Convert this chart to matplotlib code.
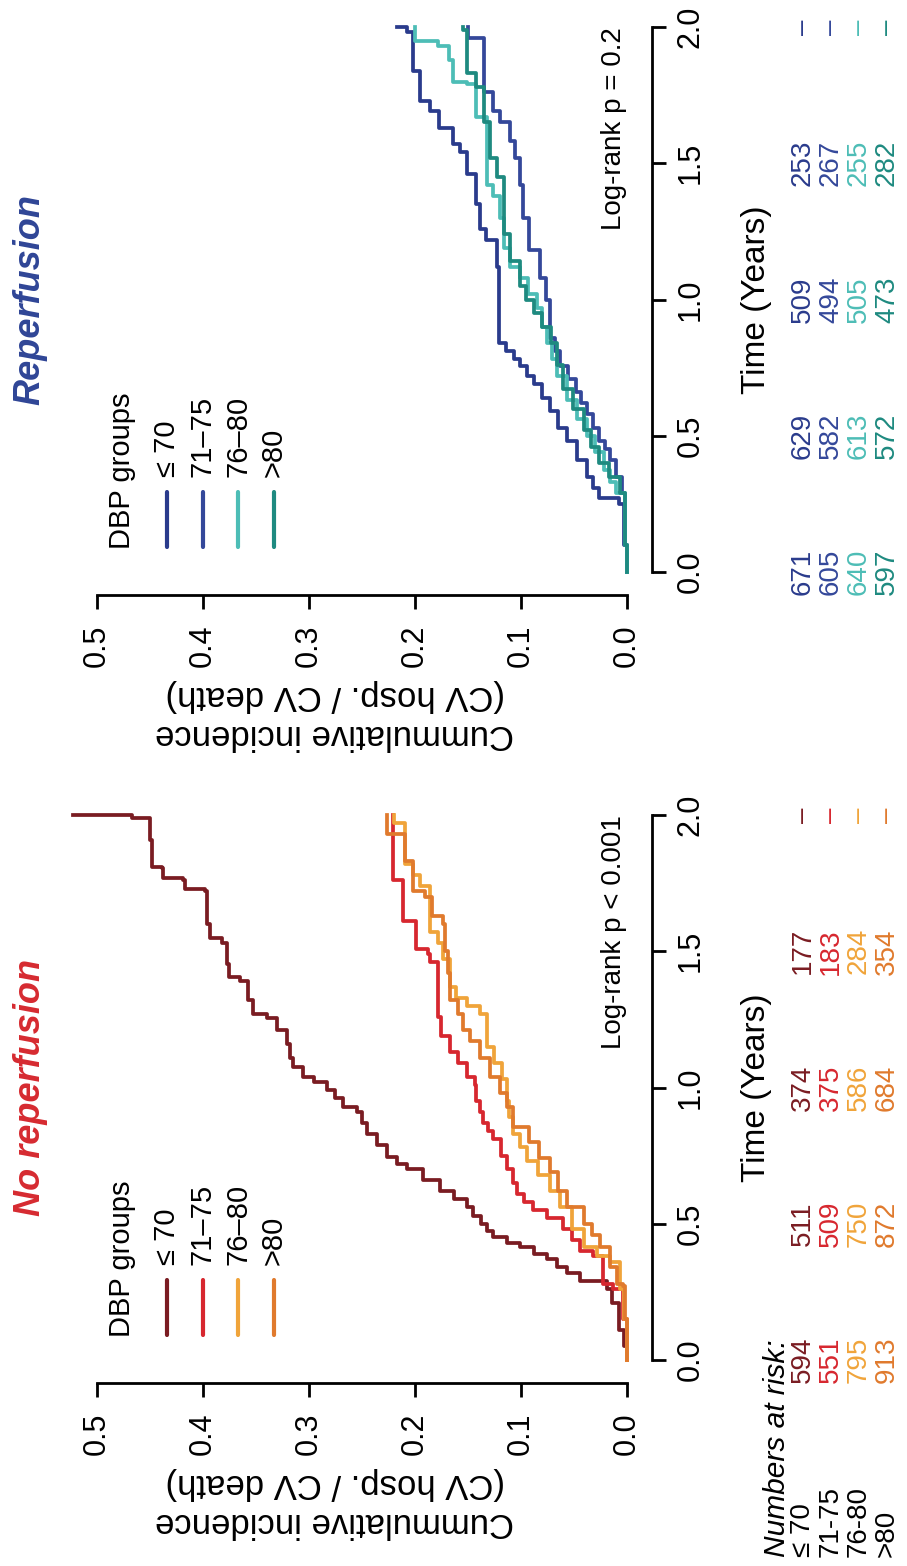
import numpy as np
import matplotlib
matplotlib.use('Agg')
import matplotlib.pyplot as plt
from matplotlib.lines import Line2D
from matplotlib.transforms import blended_transform_factory

# group labels
groups = ['\u2264 70', '71\u201375', '76\u201380', '>80']
row_labels = ['\u2264 70', '71-75', '76-80', '>80']
risk_times = [0.0, 0.5, 1.0, 1.5, 2.0]

# ---- no reperfusion (time in years, cumulative incidence)
nr_t_70 = [0, 0.05, 0.11, 0.21, 0.26, 0.29, 0.32, 0.34, 0.37, 0.39, 0.415, 0.43, 0.45, 0.475, 0.50,
           0.53, 0.56, 0.59, 0.62, 0.66, 0.70, 0.72, 0.745, 0.79, 0.83, 0.87, 0.91, 0.93, 0.96,
           0.99, 1.02, 1.04, 1.075, 1.11, 1.16, 1.21, 1.255, 1.27, 1.32, 1.39, 1.405,
           1.455, 1.53, 1.55, 1.60, 1.72, 1.73, 1.76, 1.77, 1.805, 1.81, 1.91, 1.99, 2.0]
nr_i_70 = [0, 0.003, 0.008, 0.014, 0.019, 0.044, 0.057, 0.066, 0.075, 0.088, 0.101, 0.113, 0.126,
           0.132, 0.138, 0.145, 0.151, 0.163, 0.176, 0.192, 0.208, 0.217, 0.226, 0.236, 0.245,
           0.250, 0.255, 0.268, 0.275, 0.283, 0.295, 0.306, 0.315, 0.318, 0.321, 0.330, 0.340,
           0.353, 0.358, 0.365, 0.375, 0.377, 0.382, 0.393, 0.396, 0.398, 0.417, 0.419, 0.438,
           0.439, 0.448, 0.450, 0.467, 0.523]
nr_t_75 = [0, 0.15, 0.26, 0.28, 0.38, 0.40, 0.44, 0.48, 0.52, 0.55, 0.58, 0.61, 0.65, 0.70, 0.75,
           0.81, 0.84, 0.87, 0.91, 0.95, 1.01, 1.04, 1.09, 1.13, 1.19, 1.26, 1.46, 1.49, 1.51,
           1.61, 1.76, 2.0]
nr_i_75 = [0, 0.004, 0.013, 0.023, 0.032, 0.044, 0.052, 0.060, 0.075, 0.089, 0.097, 0.104, 0.108,
           0.113, 0.119, 0.126, 0.131, 0.136, 0.139, 0.142, 0.143, 0.151, 0.159, 0.167, 0.175,
           0.178, 0.186, 0.188, 0.199, 0.211, 0.221, 0.221]
nr_t_80 = [0, 0.15, 0.26, 0.36, 0.38, 0.415, 0.48, 0.56, 0.62, 0.68, 0.73, 0.78, 0.83, 0.89, 0.95,
           1.03, 1.09, 1.15, 1.27, 1.30, 1.33, 1.37, 1.47, 1.53, 1.57, 1.74, 1.78, 1.82, 1.97,
           2.0]
nr_i_80 = [0, 0.003, 0.007, 0.016, 0.028, 0.041, 0.052, 0.063, 0.073, 0.084, 0.094, 0.101, 0.108,
           0.111, 0.113, 0.118, 0.125, 0.132, 0.139, 0.151, 0.161, 0.167, 0.174, 0.178, 0.186,
           0.195, 0.202, 0.209, 0.220, 0.220]
nr_t_gt80 = [0, 0.15, 0.27, 0.28, 0.34, 0.415, 0.46, 0.50, 0.56, 0.62, 0.69, 0.74, 0.80, 0.855,
             0.93, 0.98, 1.04, 1.11, 1.17, 1.21, 1.27, 1.32, 1.42, 1.50, 1.60, 1.63, 1.70, 1.72,
             1.83, 1.93, 2.0]
nr_i_gt80 = [0, 0.002, 0.004, 0.009, 0.016, 0.025, 0.033, 0.041, 0.057, 0.065, 0.073, 0.083,
             0.092, 0.108, 0.113, 0.120, 0.129, 0.139, 0.148, 0.155, 0.159, 0.167, 0.169, 0.172,
             0.174, 0.184, 0.191, 0.202, 0.209, 0.226, 0.226]

nr_risk = [['594', '511', '374', '177', '\u2013'],
           ['551', '509', '375', '183', '\u2013'],
           ['795', '750', '586', '284', '\u2013'],
           ['913', '872', '684', '354', '\u2013']]

# ---- reperfusion
r_t_70 = [0, 0.10, 0.25, 0.27, 0.31, 0.35, 0.41, 0.48, 0.53, 0.59, 0.64, 0.69, 0.72, 0.755, 0.78,
          0.81, 0.84, 1.12, 1.22, 1.26, 1.35, 1.46, 1.54, 1.57, 1.63, 1.69, 1.73, 1.84, 1.98, 2.0]
r_i_70 = [0, 0.003, 0.008, 0.026, 0.032, 0.038, 0.047, 0.057, 0.065, 0.073, 0.080, 0.088, 0.094,
          0.101, 0.107, 0.114, 0.121, 0.123, 0.133, 0.139, 0.142, 0.151, 0.158, 0.164, 0.177,
          0.186, 0.195, 0.202, 0.208, 0.217]
r_t_75 = [0, 0.10, 0.29, 0.35, 0.41, 0.45, 0.48, 0.53, 0.58, 0.62, 0.66, 0.71, 0.755, 0.81, 0.86,
          1.0, 1.08, 1.18, 1.30, 1.42, 1.52, 1.58, 1.65, 1.69, 1.76, 1.96, 2.0]
r_i_75 = [0, 0.002, 0.005, 0.010, 0.016, 0.021, 0.026, 0.032, 0.038, 0.043, 0.048, 0.056, 0.063,
          0.068, 0.073, 0.076, 0.082, 0.092, 0.098, 0.101, 0.106, 0.110, 0.120, 0.126, 0.135,
          0.150, 0.150]
r_t_80 = [0, 0.10, 0.29, 0.33, 0.375, 0.44, 0.50, 0.56, 0.63, 0.72, 0.78, 0.84, 0.90, 0.97, 1.02,
          1.08, 1.12, 1.19, 1.30, 1.38, 1.42, 1.67, 1.79, 1.80, 1.88, 1.93, 1.95, 2.0]
r_i_80 = [0, 0.002, 0.010, 0.016, 0.022, 0.030, 0.038, 0.047, 0.057, 0.066, 0.071, 0.075, 0.080,
          0.085, 0.093, 0.101, 0.110, 0.116, 0.120, 0.126, 0.132, 0.142, 0.151, 0.164, 0.168,
          0.178, 0.200, 0.200]
r_t_gt80 = [0, 0.10, 0.29, 0.35, 0.40, 0.46, 0.52, 0.60, 0.67, 0.76, 0.84, 0.90, 0.95, 1.00, 1.05,
            1.14, 1.24, 1.45, 1.52, 1.65, 1.78, 1.83, 1.99, 2.0]
r_i_gt80 = [0, 0.002, 0.007, 0.017, 0.026, 0.034, 0.041, 0.051, 0.060, 0.066, 0.072, 0.080, 0.088,
            0.095, 0.101, 0.110, 0.116, 0.123, 0.129, 0.135, 0.142, 0.151, 0.155, 0.155]

r_risk = [['671', '629', '509', '253', '\u2013'],
          ['605', '582', '494', '267', '\u2013'],
          ['640', '613', '505', '255', '\u2013'],
          ['597', '572', '473', '282', '\u2013']]

nr_colors = ['#7a1c22', '#d7272f', '#f0a43a', '#e07a2d']
r_colors = ['#2a3b8c', '#34489a', '#4dbdb6', '#1e8a80']

inc_ticks = [0.0, 0.1, 0.2, 0.3, 0.4, 0.5]
time_ticks = [0.0, 0.5, 1.0, 1.5, 2.0]

plt.rcParams['font.family'] = ['Liberation Sans', 'DejaVu Sans']

W, H = 907, 1566
INC_X0 = 627     # pixel column of incidence 0
PX_INC = 1060    # pixels per unit of incidence
PX_YR = 272.5    # pixels per year


def fx(px):
    return px / W


def fy(py):
    return 1 - py / H


#one panel, drawn already turned a quarter turn
def draw_panel(fig, t0_y, title, title_color, curves, colors, risk, ptext, row_names=False):
    left, right = 30, 652
    top, bottom = t0_y - 560, t0_y + 23
    ax = fig.add_axes([fx(left), fy(bottom), (right - left) / W, (bottom - top) / H])
    ax.set_xlim((INC_X0 - left) / PX_INC, (INC_X0 - right) / PX_INC)
    ax.set_ylim((t0_y - bottom) / PX_YR, (t0_y - top) / PX_YR)
    ax.patch.set_alpha(0)

    for (t, inc), c in zip(curves, colors):
        ax.plot(inc, t, drawstyle='steps-pre', color=c, lw=2.7, clip_on=False)

    ax.spines['top'].set_visible(False)
    ax.spines['left'].set_visible(False)
    ax.spines['bottom'].set_bounds(0, 0.5)
    ax.spines['right'].set_bounds(0, 2)
    for s in ('bottom', 'right'):
        ax.spines[s].set_linewidth(2)
    ax.yaxis.tick_right()
    ax.set_xticks(inc_ticks, ['%.1f' % v for v in inc_ticks], rotation=90)
    ax.set_yticks(time_ticks, ['%.1f' % v for v in time_ticks], rotation=90, va='center')
    ax.tick_params(axis='both', direction='out', length=10, width=2, labelsize=22)
    ax.tick_params(axis='x', pad=11)
    ax.tick_params(axis='y', pad=7)

    fig.text(fx(335), fy(t0_y + 143), 'Cummulative incidence\n(CV hosp. / CV death)',
             rotation=180, ha='center', va='center', fontsize=25, linespacing=1.2)

    ax.text(0.012, 2.0, ptext, rotation=90, rotation_mode='anchor', ha='right', va='center',
            fontsize=20)

    tr = blended_transform_factory(fig.transFigure, ax.transData)
    ax.text(fx(30), 1.0, title, transform=tr, rotation=90, ha='center', va='center',
            fontsize=26, fontweight='bold', fontstyle='italic', color=title_color)
    ax.text(fx(756), 1.0, 'Time (Years)', transform=tr, rotation=90, ha='center', va='center',
            fontsize=24)

    # legend
    fig.text(fx(122), fy(t0_y - 23), 'DBP groups', rotation=90, rotation_mode='anchor',
             ha='left', va='center', fontsize=21)
    for i, (lab, c) in enumerate(zip(groups, colors)):
        x = 167 + i * 35.5
        fig.add_artist(Line2D([fx(x), fx(x)], [fy(t0_y - 25), fy(t0_y - 80)],
                              transform=fig.transFigure, color=c, lw=3,
                              solid_capstyle='round'))
        fig.text(fx(x), fy(t0_y - 95), lab, rotation=90, rotation_mode='anchor',
                 ha='left', va='center', fontsize=21)

    # numbers at risk
    for j, (row, c) in enumerate(zip(risk, colors)):
        x = 803 + j * 28
        for tt, n in zip(risk_times, row):
            ax.text(fx(x), tt, n, transform=tr, rotation=90, ha='center', va='center',
                    fontsize=20, color=c)
        if row_names:
            fig.text(fx(x), fy(1557), row_labels[j], rotation=90, rotation_mode='anchor',
                     ha='left', va='center', fontsize=20)
    if row_names:
        fig.text(fx(777), fy(1557), 'Numbers at risk:', rotation=90, rotation_mode='anchor',
                 ha='left', va='center', fontsize=21.5, fontstyle='italic')
    return ax


fig = plt.figure(figsize=(W / 100, H / 100), dpi=100)

nr_curves = [(nr_t_70, nr_i_70), (nr_t_75, nr_i_75), (nr_t_80, nr_i_80), (nr_t_gt80, nr_i_gt80)]
r_curves = [(r_t_70, r_i_70), (r_t_75, r_i_75), (r_t_80, r_i_80), (r_t_gt80, r_i_gt80)]

draw_panel(fig, 1360, 'No reperfusion', '#d62a30', nr_curves, nr_colors, nr_risk,
           'Log-rank p < 0.001', row_names=True)
draw_panel(fig, 572, 'Reperfusion', '#2f4596', r_curves, r_colors, r_risk,
           'Log-rank p = 0.2')

fig.savefig('out.png', dpi=100)
